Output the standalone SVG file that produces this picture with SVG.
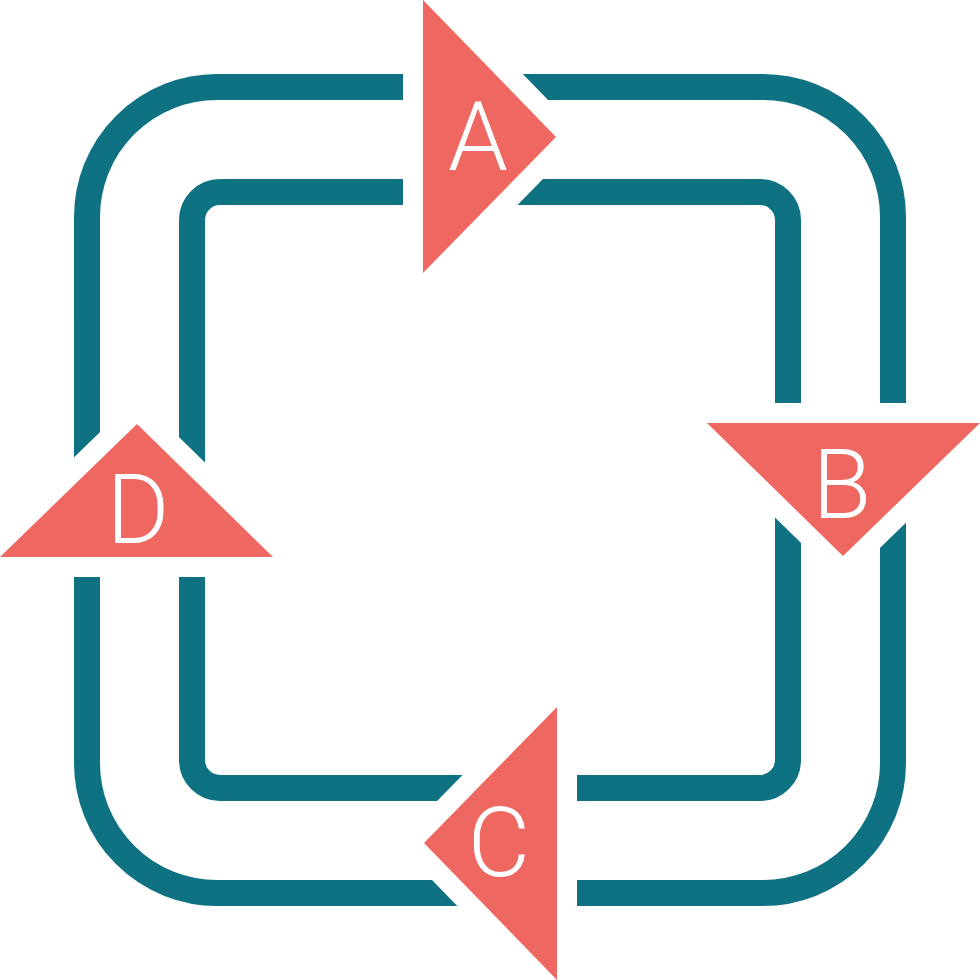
<svg xmlns="http://www.w3.org/2000/svg" width="980" height="980" viewBox="0 0 980 980">
<style>
.frame{fill:none;stroke:#0f7283;stroke-width:26}
.tri{fill:#ee6760;stroke:#ffffff;stroke-width:40;stroke-linejoin:round;paint-order:stroke}
.lbl{fill:#ffffff;font-family:Roboto,"Open Sans",sans-serif;font-size:96px;font-weight:300;text-anchor:middle}
</style>
<rect width="980" height="980" fill="#ffffff"/>
<g id="connectors">
<rect class="frame" x="87" y="87" width="806" height="806" rx="130" ry="130"/>
<rect class="frame" x="192" y="192" width="596" height="596" rx="28" ry="28"/>
</g>
<g id="node-A">
<polygon class="tri" points="423,0 423,273 556,137"/>
<text class="lbl" x="478" y="170">A</text>
</g>
<g id="node-B">
<polygon class="tri" points="980,423 707,423 843,556"/>
<text class="lbl" x="842" y="518">B</text>
</g>
<g id="node-C">
<polygon class="tri" points="557,980 557,707 424,843"/>
<text class="lbl" x="499" y="876">C</text>
</g>
<g id="node-D">
<polygon class="tri" points="0,557 273,557 137,424"/>
<text class="lbl" x="138" y="543">D</text>
</g>
</svg>
